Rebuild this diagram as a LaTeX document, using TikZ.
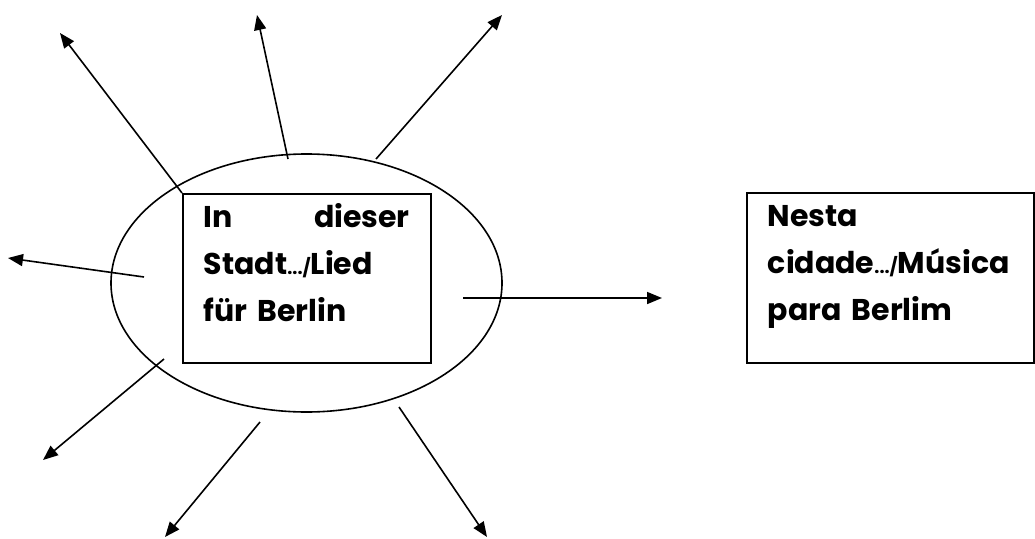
\documentclass[tikz,border=0pt]{standalone}
\usepackage{fontspec}
\setmainfont{Poppins}
\usetikzlibrary{arrows.meta,shapes.geometric}
\tikzset{
  ray/.style={line width=1.6pt,-{Triangle[length=15pt,width=12pt]}},
  frame/.style={draw,line width=1.7pt,anchor=north west,inner xsep=21pt,inner ysep=0pt,
    align=left,font=\bfseries\fontsize{30}{47}\selectfont}
}
\newcommand{\slashdots}{{\fontsize{18}{47}\selectfont.../}}
\begin{document}
\begin{tikzpicture}[x=1pt,y=-1pt]
\useasboundingbox (0,0) rectangle (1035,538);
% circle of themes around the song
\node[ellipse,draw,line width=1.6pt,minimum width=391pt,minimum height=258pt] (city) at (306.5,283) {};
\node[frame,text width=206pt,text height=34pt,text depth=135pt] (lied) at (182,193)
  {In\hfill dieser\\Stadt\slashdots Lied\\für Berlin};
\node[frame,text width=245pt,text height=34pt,text depth=136pt] (musica) at (746,192)
  {Nesta\\cidade\slashdots Música\\para Berlim};
% rays
\coordinate (s1) at (182,193); \coordinate (e1) at (60,33);
\coordinate (s2) at (288,159); \coordinate (e2) at (257,15);
\coordinate (s3) at (376,159); \coordinate (e3) at (502,15);
\coordinate (s4) at (144,277); \coordinate (e4) at (8,258);
\coordinate (s5) at (164,359); \coordinate (e5) at (43,460);
\coordinate (s6) at (260,422); \coordinate (e6) at (165,537);
\coordinate (s7) at (399,407); \coordinate (e7) at (487,537);
\coordinate (s8) at (463,298); \coordinate (e8) at (662,298);
\foreach \i in {1,...,8}
  \draw[ray] (s\i) -- (e\i);
\end{tikzpicture}
\end{document}
